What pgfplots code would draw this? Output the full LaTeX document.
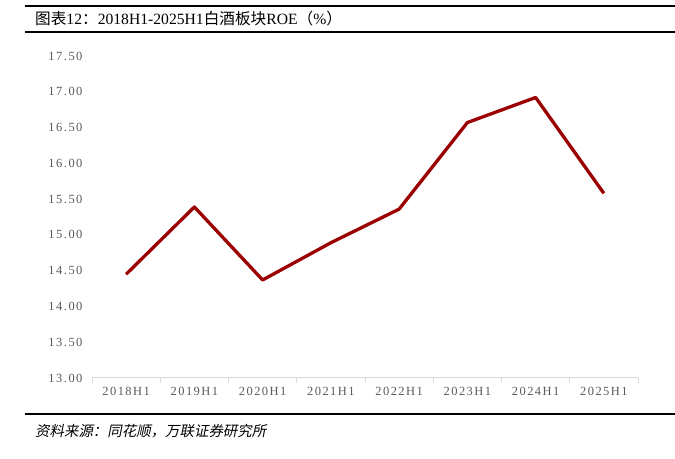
\documentclass[border=0pt]{standalone}
\usepackage{pgfplots}
\pgfplotsset{compat=1.18}
\usepackage{fontspec}
\setmainfont{Liberation Serif}
\newfontfamily\cjk{Noto Sans CJK SC}
\newfontfamily\cjkit[FakeSlant=0.2]{Noto Sans CJK SC}
\newfontfamily\tickfont[LetterSpace=12]{Liberation Serif}
\definecolor{linered}{RGB}{155,0,0}
\definecolor{tickgray}{RGB}{89,89,89}
\definecolor{axgray}{RGB}{217,217,217}
\begin{document}
\begin{tikzpicture}[x=1bp,y=1bp]
\useasboundingbox (0,0) rectangle (675,459);
% rules
\draw[line width=2bp] (25,453) -- (675,453);
\draw[line width=2bp] (25,427) -- (675,427);
\draw[line width=2bp] (25,45) -- (675,45);
\node[anchor=west,inner sep=0pt,font=\fontsize{15.7}{17}\selectfont] at (35,440)
  {{\cjk 图表}12{\cjk ：}2018H1-2025H1{\cjk 白酒板块}ROE{\cjk （}\%{\cjk ）}};
\node[anchor=west,inner sep=0pt,font=\fontsize{14.5}{16}\selectfont] at (35,28)
  {\cjkit 资料来源：同花顺，万联证券研究所};
\begin{axis}[
  at={(92bp,81bp)}, anchor=south west,
  scale only axis, width=546bp, height=322bp,
  xmin=-0.5, xmax=7.5, ymin=13, ymax=17.5,
  axis x line*=bottom, axis y line*=left,
  x axis line style={axgray, line width=1bp},
  y axis line style={draw=none},
  xtick={0,...,7},
  xticklabels={2018H1,2019H1,2020H1,2021H1,2022H1,2023H1,2024H1,2025H1},
  minor xtick={-0.5,0.5,...,7.5},
  major tick length=0pt, minor tick length=5bp,
  tick align=outside,
  minor tick style={axgray, line width=1bp},
  ytick={13,13.5,...,17.5},
  /pgf/number format/assume math mode=true,
  yticklabel={\pgfmathprintnumber[fixed,fixed zerofill,precision=2]{\tick}},
  ticklabel style={font=\tickfont\fontsize{12.5}{14}\selectfont, text=tickgray},
  xticklabel style={yshift=-6bp},
  yticklabel style={anchor=east, xshift=-6bp},
  clip=false,
]
\addplot[linered, line width=3.3bp, line join=round] coordinates {
 (0,14.45) (1,15.39) (2,14.37) (3,14.89) (4,15.36) (5,16.57) (6,16.92) (7,15.58)
};
\end{axis}
\end{tikzpicture}
\end{document}
